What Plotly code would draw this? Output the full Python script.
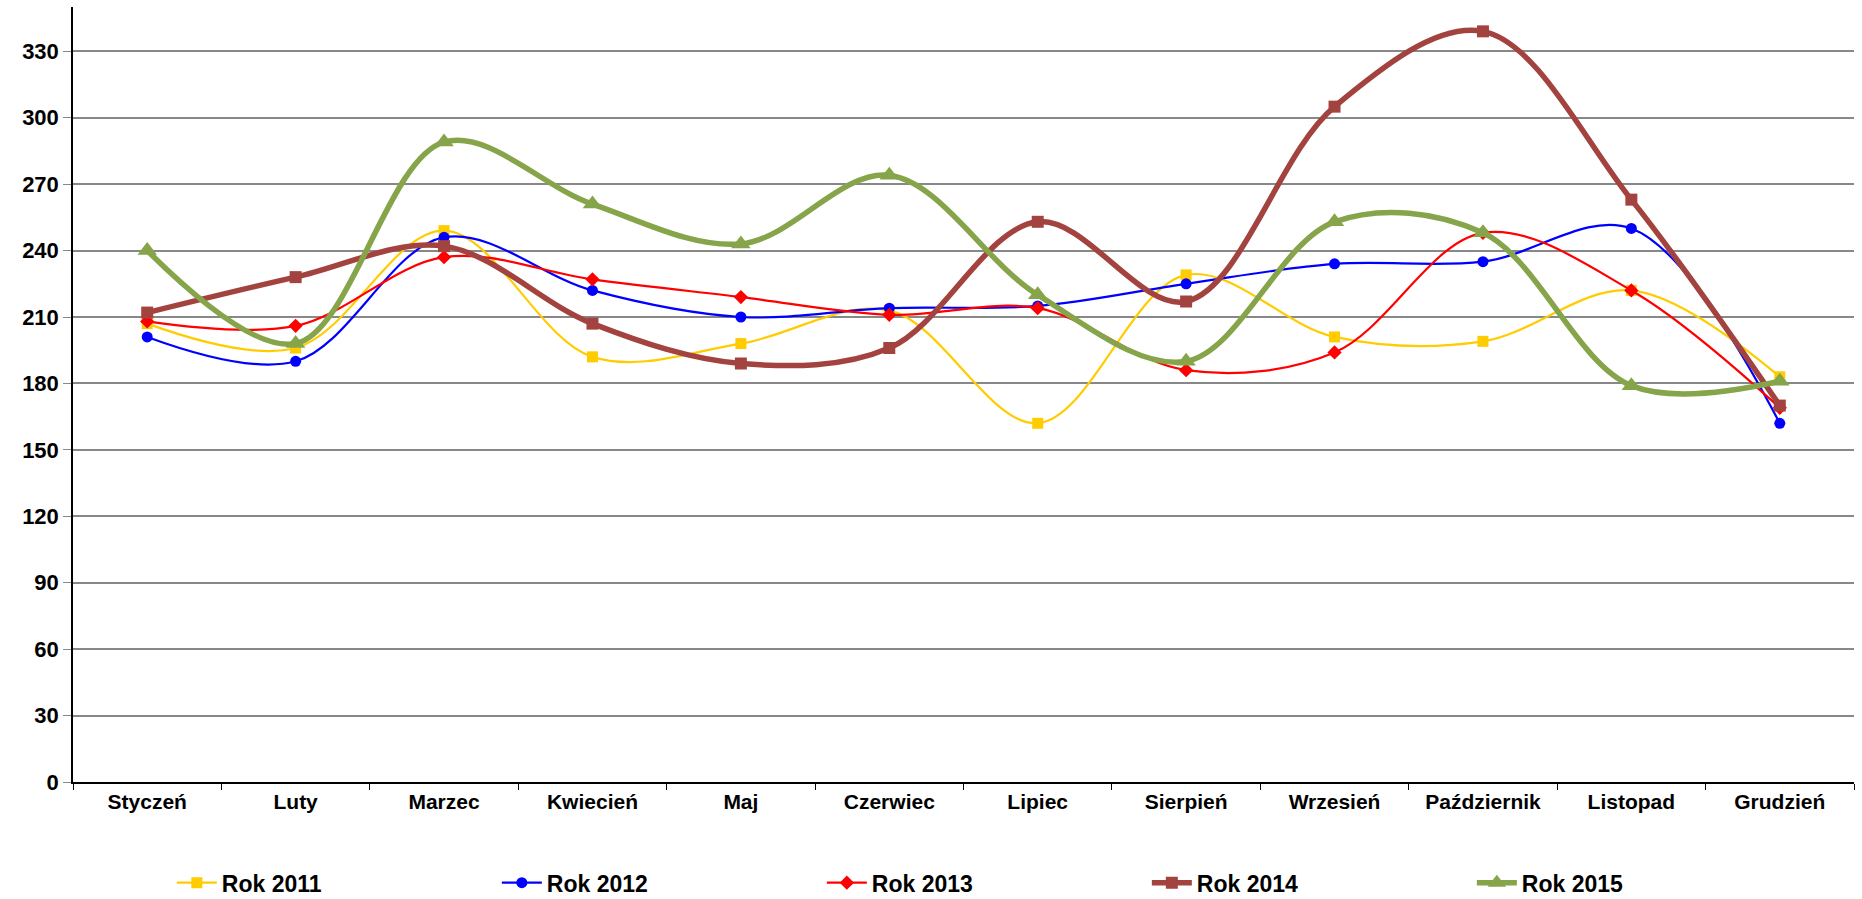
import plotly.graph_objects as go

months = ["Styczeń", "Luty", "Marzec", "Kwiecień", "Maj", "Czerwiec", "Lipiec",
          "Sierpień", "Wrzesień", "Październik", "Listopad", "Grudzień"]

rok_2011 = [207, 196, 249, 192, 198, 213, 162, 229, 201, 199, 222, 183]
rok_2012 = [201, 190, 246, 222, 210, 214, 215, 225, 234, 235, 250, 162]
rok_2013 = [208, 206, 237, 227, 219, 211, 214, 186, 194, 248, 222, 169]
rok_2014 = [212, 228, 242, 207, 189, 196, 253, 217, 305, 339, 263, 170]
rok_2015 = [240, 198, 289, 261, 243, 274, 220, 190, 253, 248, 179, 181]

y_ticks = [0, 30, 60, 90, 120, 150, 180, 210, 240, 270, 300, 330]

series = [
    ("Rok 2011", rok_2011, "#FFCC00", 2.2, "square", 11),
    ("Rok 2012", rok_2012, "#0000FF", 2.2, "circle", 11),
    ("Rok 2013", rok_2013, "#FF0000", 2.2, "diamond", 11),
    ("Rok 2014", rok_2014, "#A3433F", 5.5, "square", 12),
    ("Rok 2015", rok_2015, "#86A44A", 5.5, "triangle-up", 17),
]

fig = go.Figure()
for name, vals, color, width, symbol, msize in series:
    fig.add_trace(go.Scatter(
        x=months, y=vals, name=name, mode="lines+markers",
        line=dict(color=color, width=width, shape="spline", smoothing=1.0),
        marker=dict(color=color, symbol=symbol, size=msize, line=dict(width=0)),
    ))

fig.update_layout(
    width=1862, height=899,
    paper_bgcolor="white", plot_bgcolor="white",
    margin=dict(l=73, r=8, t=7, b=117, autoexpand=False),
    font=dict(family="Liberation Sans, Arial, sans-serif", color="black"),
    showlegend=True,
    legend=dict(
        orientation="h", x=0.0555, xanchor="left", y=-0.130, yanchor="middle",
        font=dict(size=23, family="Liberation Sans, Arial, sans-serif", weight="bold"),
        entrywidth=270, entrywidthmode="pixels", itemwidth=40,
        bgcolor="rgba(0,0,0,0)",
    ),
)
fig.update_xaxes(
    type="category", showline=True, linecolor="black", linewidth=1.5,
    ticks="outside", tickson="boundaries", ticklen=6, tickcolor="black",
    showgrid=False, tickfont=dict(size=21, weight="bold"),
    range=[-0.5, 11.5],
)
fig.update_yaxes(
    range=[0, 350], tickvals=y_ticks, showline=True, linecolor="black", linewidth=1.5,
    ticks="outside", ticklen=8, tickcolor="#888888",
    showgrid=True, gridcolor="#888888", gridwidth=1.5,
    tickfont=dict(size=22, weight="bold"), zeroline=False,
)

fig.write_html(
    "out.html",
    config={"displayModeBar": False},
    post_script="document.body.style.margin='0';document.body.style.overflow='hidden';",
)
